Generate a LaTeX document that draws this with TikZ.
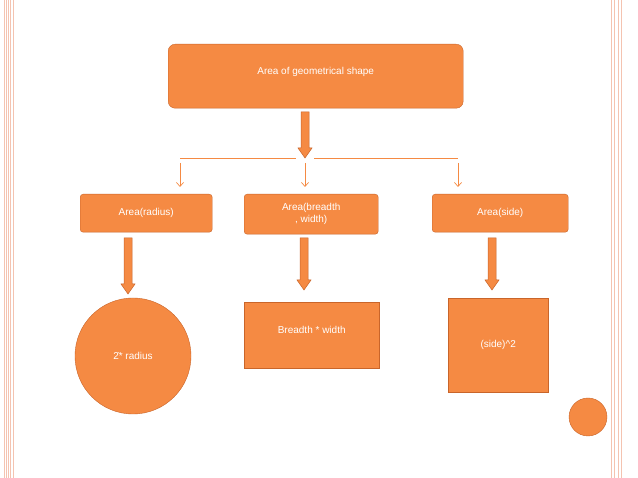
\documentclass[tikz,border=0pt]{standalone}
\usepackage{fontspec}
\setmainfont{Liberation Sans}
\usetikzlibrary{arrows.meta}
\definecolor{org}{HTML}{F58A43}
\definecolor{orgd}{HTML}{C9652A}
\definecolor{pinkl}{HTML}{F4C3B0}
\begin{document}
\begin{tikzpicture}[x=1pt,y=-1pt,
  box/.style={draw=orgd,fill=org,text=white,font=\fontsize{10}{12}\selectfont,align=center,inner sep=0pt},
  fat/.style={draw=orgd,fill=org,line width=0.5pt},
  thin/.style={draw=org,line width=0.7pt,-{Straight Barb[length=4pt,width=7pt]}}]
\useasboundingbox (0,0) rectangle (638,478);
\fill[white] (0,0) rectangle (638,478);
\foreach \x in {4,6,8,10.5,13} \draw[pinkl,line width=0.8pt] (\x,0)--(\x,478);
\foreach \x in {611,614,618,621} \draw[pinkl,line width=0.8pt] (\x,0)--(\x,478);
\node[box,rounded corners=7pt,minimum width=295pt,minimum height=64pt,anchor=north west] (top) at (168,44) {\raisebox{10pt}{Area of geometrical shape}};
\node[box,rounded corners=3pt,minimum width=132pt,minimum height=38pt,anchor=north west] (l) at (80,194) {Area(radius)};
\node[box,rounded corners=3pt,minimum width=134pt,minimum height=40pt,anchor=north west] (m) at (244,194) {Area(breadth\\, width)};
\node[box,rounded corners=3pt,minimum width=136pt,minimum height=38pt,anchor=north west] (r) at (432,194) {Area(side)};
\node[box,circle,minimum size=116pt] (c) at (133,356) {\.{2}* radius};
\node[box,minimum width=135pt,minimum height=66pt,anchor=north west] (b) at (244,302) {\raisebox{10pt}{Breadth * width}};
\node[box,minimum width=100pt,minimum height=94pt,anchor=north west] (s) at (448,298) {(side)\textasciicircum 2};
\node[draw=orgd,fill=org,circle,minimum size=38pt,inner sep=0pt] (dot) at (588,417) {};
% fat arrows
\foreach \x/\ya/\yb in {305/112/158,128/238/294,304/238/290,492/238/290}{
  \filldraw[fat] (\x-4,\ya)--(\x+4,\ya)--(\x+4,\yb-10)--(\x+7,\yb-10)--(\x,\yb)--(\x-7,\yb-10)--(\x-4,\yb-10)--cycle;}
\coordinate (hl) at (180,158); \coordinate (hr) at (458,158);
\coordinate (g1) at (296,158); \coordinate (g2) at (314,158);
\draw[org,line width=0.7pt] (hl)--(g1) (g2)--(hr);
\coordinate (a1) at (180,163); \coordinate (a2) at (305,163); \coordinate (a3) at (458,163);
\draw[thin] (a1)--(180,187);
\draw[thin] (a2)--(305,187);
\draw[thin] (a3)--(458,187);
\end{tikzpicture}
\end{document}
